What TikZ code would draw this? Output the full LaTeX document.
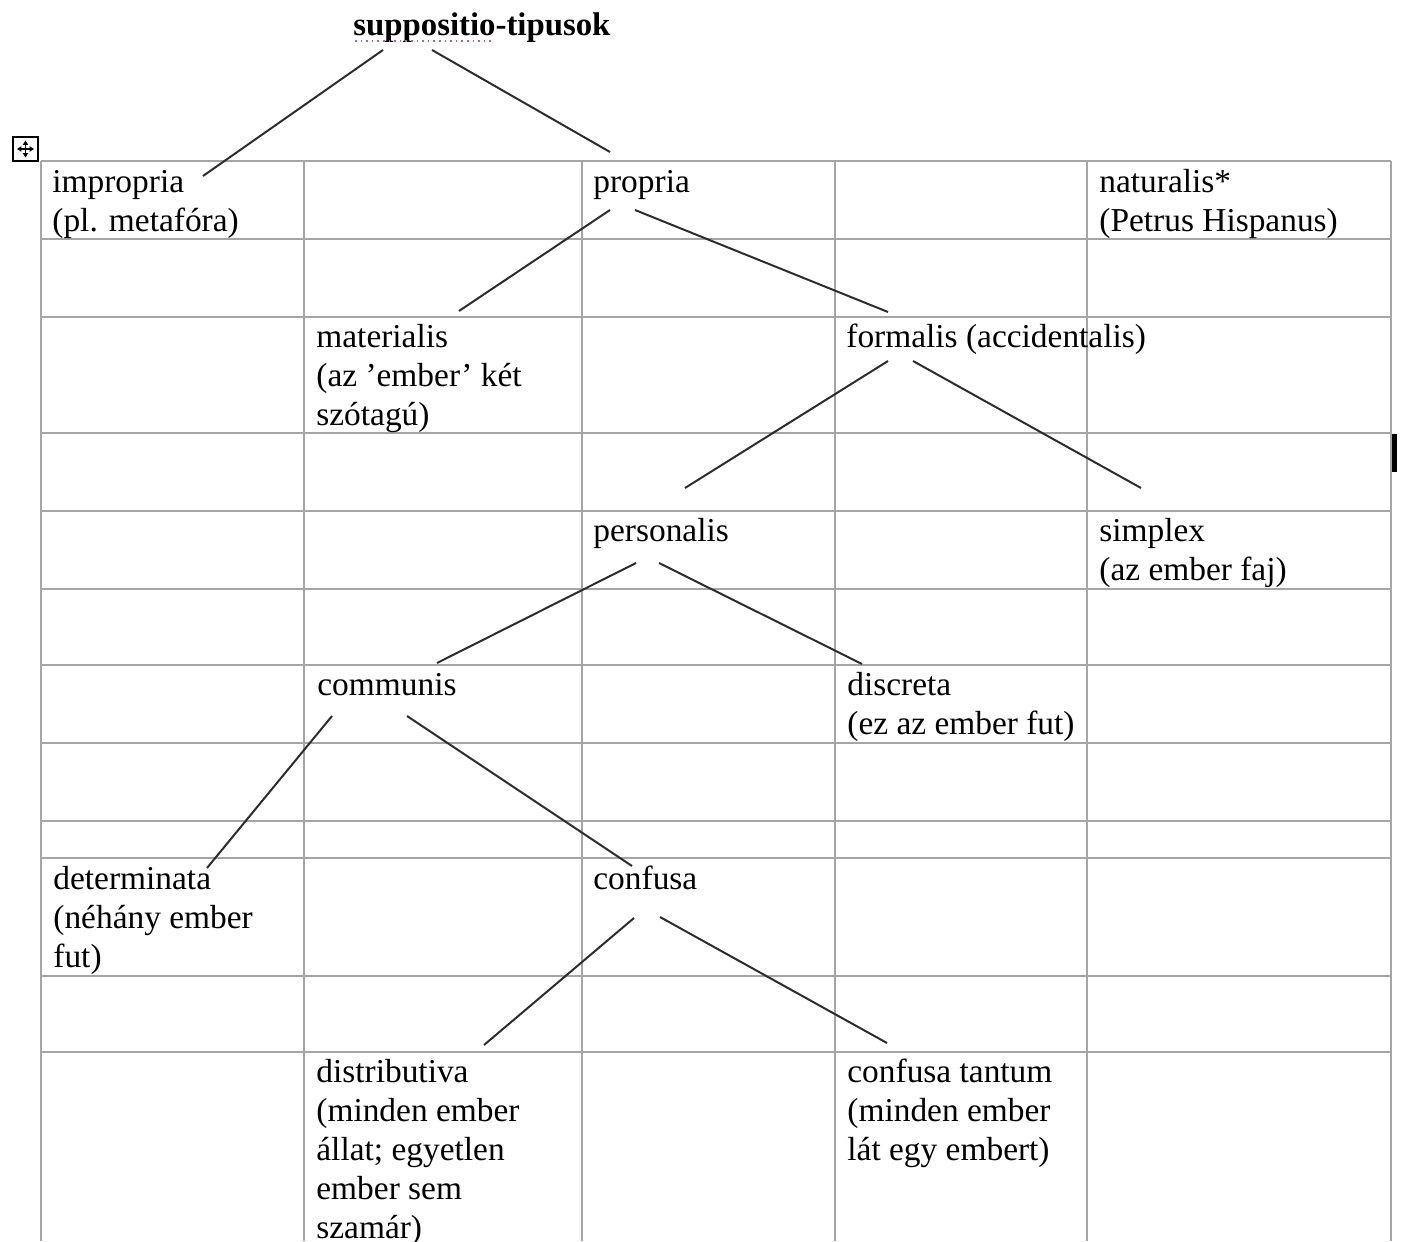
\documentclass[tikz,border=0pt]{standalone}
\usepackage{fontspec}
\setmainfont{Liberation Serif}
\usetikzlibrary{arrows.meta}
\newcommand\mlines[1]{\begin{tabular}[t]{@{}l@{}}#1\end{tabular}}
\definecolor{gridgray}{RGB}{165,165,165}
\definecolor{linkgray}{RGB}{45,45,45}
\definecolor{spellpurple}{RGB}{175,95,175}
\begin{document}
\begin{tikzpicture}[x=0.5pt,y=-0.5pt,
  gridline/.style={draw=gridgray,line width=0.8pt},
  cell/.style={anchor=base west,inner sep=0pt,font=\fontsize{16.7}{19.5}\selectfont},
  link/.style={draw=linkgray,line width=1pt}]
\useasboundingbox (0,0) rectangle (1406,1241);
% table grid
\foreach \y in {161,239,317,433,511,589,665,743,821,858,976,1052}
  \draw[gridline] (41,\y) -- (1391,\y);
\foreach \x in {41,304,582,835,1087,1391}
  \draw[gridline] (\x,161) -- (\x,1241);
% table move handle
\draw[black,line width=0.7pt] (13,137) rectangle (38,161);
\draw[black,line width=0.6pt,{Triangle[length=2.2pt,width=2.6pt]}-{Triangle[length=2.2pt,width=2.6pt]}] (17,149) -- (34,149);
\draw[black,line width=0.6pt,{Triangle[length=2.2pt,width=2.6pt]}-{Triangle[length=2.2pt,width=2.6pt]}] (25.5,140.5) -- (25.5,157.5);
% cursor bar
\fill[black] (1392,434) rectangle (1397,472);
% nodes
\node[cell,font=\bfseries\fontsize{16.4}{19}\selectfont] (title) at (353,36) {suppositio-tipusok};
\draw[spellpurple,line width=0.8pt,dotted] ([shift={(2,5)}]title.base west) -- ([shift={(140,5)}]title.base west);
\node[cell] (impropria) at (52,192) {\mlines{impropria\\(pl. metafóra)}};
\node[cell] (propria) at (593,192) {propria};
\node[cell] (naturalis) at (1099,192) {\mlines{naturalis*\\(Petrus Hispanus)}};
\node[cell] (materialis) at (316,347) {\mlines{materialis\\(az ’ember’ két\\szótagú)}};
\node[cell] (formalis) at (846,347) {formalis (accidentalis)};
\node[cell] (personalis) at (593,541) {personalis};
\node[cell] (simplex) at (1099,541) {\mlines{simplex\\(az ember faj)}};
\node[cell] (communis) at (317,695) {communis};
\node[cell] (discreta) at (847,695) {\mlines{discreta\\(ez az ember fut)}};
\node[cell] (determinata) at (53,889) {\mlines{determinata\\(néhány ember\\fut)}};
\node[cell] (confusa) at (593,889) {confusa};
\node[cell] (distributiva) at (316,1082) {\mlines{distributiva\\(minden ember\\állat; egyetlen\\ember sem\\szamár)}};
\node[cell] (tantum) at (847,1082) {\mlines{confusa tantum\\(minden ember\\lát egy embert)}};
% connectors
\draw[link] ([shift={(30,14)}]title.base west) -- ([shift={(151,-16)}]impropria.base west);
\draw[link] ([shift={(79,14)}]title.base west) -- ([shift={(17,-40)}]propria.base west);
\draw[link] ([shift={(17,18)}]propria.base west) -- ([shift={(143,-36)}]materialis.base west);
\draw[link] ([shift={(42,18)}]propria.base west) -- ([shift={(42,-35)}]formalis.base west);
\draw[link] ([shift={(42,14)}]formalis.base west) -- ([shift={(92,-53)}]personalis.base west);
\draw[link] ([shift={(67,14)}]formalis.base west) -- ([shift={(42,-53)}]simplex.base west);
\draw[link] ([shift={(43,22)}]personalis.base west) -- ([shift={(120,-32)}]communis.base west);
\draw[link] ([shift={(66,22)}]personalis.base west) -- ([shift={(15,-31)}]discreta.base west);
\draw[link] ([shift={(15,21)}]communis.base west) -- ([shift={(154,-21)}]determinata.base west);
\draw[link] ([shift={(90,21)}]communis.base west) -- ([shift={(39,-23)}]confusa.base west);
\draw[link] ([shift={(41,29)}]confusa.base west) -- ([shift={(168,-37)}]distributiva.base west);
\draw[link] ([shift={(67,28)}]confusa.base west) -- ([shift={(40,-39)}]tantum.base west);
\end{tikzpicture}
\end{document}
